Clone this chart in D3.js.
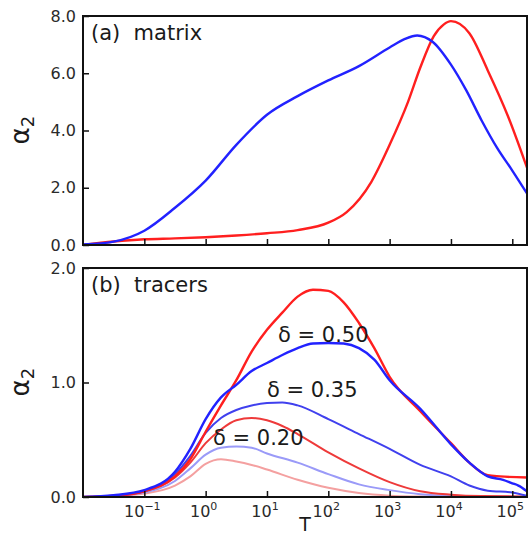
<!DOCTYPE html>
<html>
<head>
<meta charset="utf-8">
<script src="https://cdn.jsdelivr.net/npm/d3@7"></script>
<style>
  body { margin: 0; background: #fff; }
  svg { display: block; font-family: "DejaVu Sans", sans-serif; }
</style>
</head>
<body>
<div id="chart"></div>
<script>
// x values are stored as log10(T)
const xTicks = [-1, 0, 1, 2, 3, 4, 5];
const yTicksA = [0, 2, 4, 6, 8];
const yTicksB = [0, 1, 2];

// (a) matrix
const logTMatrixBlue = [-2, -1.5, -1, -0.5, 0, 0.5, 1, 1.5, 2, 2.5, 3, 3.25, 3.45, 3.7, 4, 4.25, 4.5, 4.75, 5, 5.24];
const matrixBlue = [0.02, 0.12, 0.5, 1.3, 2.25, 3.5, 4.55, 5.2, 5.75, 6.25, 6.9, 7.2, 7.32, 7.1, 6.3, 5.4, 4.35, 3.4, 2.6, 1.8];
const logTMatrixRed = [-2, -1.5, -1, -0.5, 0, 0.5, 1, 1.5, 2, 2.3, 2.7, 3, 3.3, 3.5, 3.72, 3.88, 4, 4.3, 4.6, 4.93, 5.24];
const matrixRed = [0.0, 0.12, 0.2, 0.23, 0.27, 0.33, 0.41, 0.52, 0.78, 1.15, 2.2, 3.5, 5.0, 6.2, 7.3, 7.7, 7.82, 7.4, 6.1, 4.5, 2.7];

// (b) tracers
const logTRed50 = [-2, -1.5, -1, -0.5, -0.25, 0, 0.25, 0.5, 0.75, 1, 1.25, 1.5, 1.75, 2, 2.25, 2.5, 2.75, 3, 3.5, 4, 4.3, 4.6, 4.8, 5.24];
const red50 = [0, 0.01, 0.05, 0.18, 0.33, 0.57, 0.8, 1.02, 1.27, 1.46, 1.61, 1.75, 1.81, 1.8, 1.7, 1.52, 1.3, 1.05, 0.75, 0.47, 0.3, 0.19, 0.18, 0.17];
const logTBlue50 = [-2, -1.5, -1, -0.5, -0.25, 0, 0.25, 0.5, 0.75, 1, 1.25, 1.5, 1.75, 2, 2.25, 2.5, 2.75, 3, 3.5, 4, 4.3, 4.6, 4.85, 5, 5.1, 5.24];
const blue50 = [0, 0.015, 0.06, 0.22, 0.42, 0.68, 0.87, 0.98, 1.1, 1.17, 1.24, 1.3, 1.34, 1.345, 1.34, 1.3, 1.2, 1.02, 0.77, 0.46, 0.3, 0.18, 0.15, 0.12, 0.1, 0.05];
const logTBlue35 = [-2, -1.5, -1, -0.5, -0.25, 0, 0.25, 0.5, 0.75, 1, 1.25, 1.5, 2, 2.5, 3, 3.5, 4, 4.3, 4.6, 5, 5.24];
const blue35 = [0, 0.012, 0.05, 0.2, 0.36, 0.56, 0.69, 0.76, 0.8, 0.82, 0.825, 0.8, 0.68, 0.55, 0.42, 0.28, 0.18, 0.1, 0.055, 0.04, 0.01];
const logTRed35 = [-2, -1.5, -1, -0.5, -0.25, 0, 0.25, 0.5, 0.75, 1, 1.25, 1.5, 2, 2.5, 3, 3.5, 4, 4.5, 5.24];
const red35 = [0, 0.01, 0.05, 0.17, 0.3, 0.47, 0.59, 0.67, 0.69, 0.67, 0.62, 0.55, 0.39, 0.25, 0.13, 0.05, 0.02, 0.008, 0.005];
const logTBlue20 = [-2, -1.5, -1, -0.5, -0.25, 0, 0.25, 0.5, 0.75, 1, 1.5, 2, 2.5, 3, 3.5, 4, 5.24];
const blue20 = [0, 0.01, 0.04, 0.14, 0.25, 0.37, 0.43, 0.44, 0.43, 0.38, 0.3, 0.2, 0.11, 0.06, 0.025, 0.01, 0.0];
const logTRed20 = [-2, -1.5, -1, -0.5, -0.25, 0, 0.25, 0.5, 0.75, 1, 1.5, 2, 2.5, 3, 3.5, 4, 5.24];
const red20 = [0, 0.008, 0.03, 0.1, 0.18, 0.29, 0.33, 0.31, 0.28, 0.24, 0.15, 0.08, 0.035, 0.012, 0.004, 0.0, 0.0];

const width = 530, height = 536;
const svg = d3.select("#chart").append("svg")
  .attr("width", width).attr("height", height);
svg.append("rect").attr("width", width).attr("height", height).attr("fill", "#fff");

const x = d3.scaleLog().domain([1e-2, Math.pow(10, 5.24)]).range([83, 527]);

const panels = [
  { top: 16, bottom: 245, ymax: 8, ticks: yTicksA, fmt: d3.format(".1f"), label: "(a)  matrix", xlabels: false,
    series: [
      { lt: logTMatrixRed, v: matrixRed, color: "#ff1f1f", w: 2.4 },
      { lt: logTMatrixBlue, v: matrixBlue, color: "#2222ff", w: 2.4 }
    ] },
  { top: 268, bottom: 497, ymax: 2, ticks: yTicksB, fmt: d3.format(".1f"), label: "(b)  tracers", xlabels: true,
    series: [
      { lt: logTRed20, v: red20, color: "#f4a0a0", w: 2 },
      { lt: logTBlue20, v: blue20, color: "#9a9af8", w: 2 },
      { lt: logTRed35, v: red35, color: "#ee3a3a", w: 2 },
      { lt: logTBlue35, v: blue35, color: "#4040ee", w: 2 },
      { lt: logTRed50, v: red50, color: "#ff1f1f", w: 2.4 },
      { lt: logTBlue50, v: blue50, color: "#2222ff", w: 2.4 }
    ] }
];

panels.forEach((p) => {
  const y = d3.scaleLinear().domain([0, p.ymax]).range([p.bottom, p.top]);
  const g = svg.append("g");

  const clipId = "clip" + p.top;
  svg.append("clipPath").attr("id", clipId).append("rect")
    .attr("x", x.range()[0]).attr("y", p.top)
    .attr("width", x.range()[1] - x.range()[0]).attr("height", p.bottom - p.top);

  const line = d3.line()
    .x((d) => x(d[0]))
    .y((d) => y(d[1]))
    .curve(d3.curveMonotoneX);

  p.series.forEach((s) => {
    const data = s.lt.map((e, i) => [Math.pow(10, e), s.v[i]]);
    g.append("path")
      .datum(data)
      .attr("clip-path", `url(#${clipId})`)
      .attr("fill", "none")
      .attr("stroke", s.color)
      .attr("stroke-width", s.w)
      .attr("stroke-linejoin", "round")
      .attr("d", line);
  });

  // x axis, ticks inward
  const xa = g.append("g")
    .attr("transform", `translate(0,${p.bottom})`)
    .call(d3.axisBottom(x).tickValues(xTicks.map((e) => Math.pow(10, e)))
      .tickSizeInner(-6).tickSizeOuter(0).tickFormat(""));
  xa.select(".domain").remove();
  xa.selectAll("line").attr("stroke", "#111").attr("stroke-width", 1.5);

  if (p.xlabels) {
    xTicks.forEach((e) => {
      const t = g.append("text")
        .attr("x", x(Math.pow(10, e)) - 2)
        .attr("y", p.bottom + 20)
        .attr("text-anchor", "middle")
        .attr("font-size", 16)
        .attr("fill", "#2a2a2a");
      t.append("tspan").text("10");
      t.append("tspan").attr("dy", -7).attr("font-size", 11)
        .text(e < 0 ? "\u2212" + (-e) : String(e));
    });
  }

  // y axis, ticks inward
  const ya = g.append("g")
    .attr("transform", `translate(${x.range()[0]},0)`)
    .call(d3.axisLeft(y).tickValues(p.ticks).tickSizeInner(-6).tickSizeOuter(0)
      .tickPadding(5).tickFormat(p.fmt));
  ya.select(".domain").remove();
  ya.selectAll("line").attr("stroke", "#111").attr("stroke-width", 1.5);
  ya.selectAll("text")
    .attr("font-size", 16)
    .attr("font-family", "DejaVu Sans, sans-serif")
    .attr("fill", "#2a2a2a")
    .attr("x", -7);

  // frame
  g.append("rect")
    .attr("x", x.range()[0]).attr("y", p.top)
    .attr("width", x.range()[1] - x.range()[0]).attr("height", p.bottom - p.top)
    .attr("fill", "none").attr("stroke", "#111").attr("stroke-width", 2);

  // y label alpha_2
  const yl = g.append("text")
    .attr("transform", `translate(29,${(p.top + p.bottom) / 2 + 14}) rotate(-90)`)
    .attr("font-size", 26)
    .attr("fill", "#1a1a1a");
  yl.append("tspan").text("\u03b1");
  yl.append("tspan").attr("dy", 5).attr("font-size", 18).text("2");

  // panel label
  g.append("text")
    .attr("x", 91).attr("y", p.top + 24)
    .attr("font-size", 21)
    .attr("fill", "#1a1a1a")
    .attr("xml:space", "preserve")
    .text(p.label);
});

// delta annotations in panel (b)
const deltaLabels = ["\u03b4 = 0.50", "\u03b4 = 0.35", "\u03b4 = 0.20"];
const deltaPos = [[278, 342], [267, 397], [213, 445]];
deltaLabels.forEach((s, i) => {
  svg.append("text")
    .attr("x", deltaPos[i][0]).attr("y", deltaPos[i][1])
    .attr("font-size", 21)
    .attr("fill", "#1a1a1a")
    .text(s);
});

// x label
svg.append("text")
  .attr("x", 305).attr("y", 531)
  .attr("text-anchor", "middle")
  .attr("font-size", 19)
  .attr("fill", "#1a1a1a")
  .text("T");
</script>
</body>
</html>
